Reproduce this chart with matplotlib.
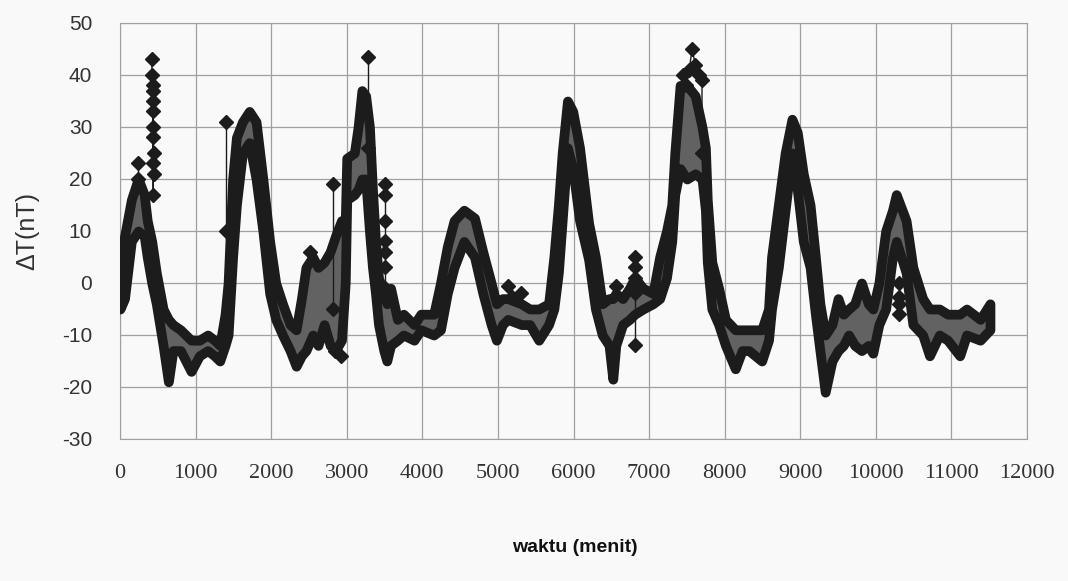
import matplotlib.pyplot as plt
import numpy as np

plt.rcParams["axes.unicode_minus"] = False

### data (band envelope of the dense record)
t_menit = [0, 60, 150, 240, 320, 360, 420, 480, 570, 640, 700, 800, 940, 1050, 1160,
           1250, 1320, 1390, 1430, 1490, 1540, 1620, 1710, 1800, 1890, 1980, 2060,
           2150, 2250, 2330, 2400, 2460, 2550, 2620, 2700, 2780, 2850, 2930, 2980,
           3000, 3100, 3150, 3200, 3250, 3300, 3340, 3380, 3420, 3490, 3530, 3580,
           3670, 3750, 3890, 3980, 4150, 4240, 4330, 4420, 4550, 4690, 4800, 4910,
           4980, 5060, 5130, 5310, 5420, 5540, 5670, 5740, 5800, 5850, 5920, 5990,
           6080, 6200, 6290, 6380, 6470, 6520, 6560, 6650, 6740, 6810, 6920, 7050,
           7140, 7230, 7300, 7340, 7410, 7500, 7610, 7700, 7745, 7770, 7830, 7920,
           8010, 8140, 8230, 8320, 8490, 8580, 8620, 8710, 8800, 8890, 8960, 9040,
           9130, 9200, 9260, 9330, 9420, 9500, 9570, 9640, 9720, 9810, 9900, 9960,
           10040, 10130, 10220, 10270, 10400, 10490, 10620, 10710, 10840, 10950,
           11110, 11200, 11380, 11510]
dT_bawah = [-5, -3, 8, 10, 9, 5, 0, -4, -12, -19, -13, -13, -17, -14, -13,
            -14, -15, -12, -10, 5, 15, 25, 27, 20, 10, -2, -7,
            -10, -13, -16, -14, -13, -10, -12, -8, -12, -13, -11, 0,
            16, 17, 18, 20, 20, 10, 3, -2, -8, -13, -15, -12,
            -11, -10, -11, -9, -10, -9, -2, 3, 8, 5, -2, -8,
            -11, -8, -7, -8, -8, -11, -8, -5, 2, 12, 26, 22,
            12, 4.5, -5, -10, -12, -18.5, -12, -8, -7, -6, -5, -4,
            -3, 1, 8, 17, 22, 20, 21, 20, 14, 4, -5, -8,
            -12, -16.5, -13, -13, -15, -11, -5, 3, 14, 25, 18, 8,
            3, -6, -13, -21, -15, -13, -12, -10, -12, -13, -12, -13.5,
            -8, -5, 5, 8, 2, -8, -10, -14, -10, -11,
            -14, -10, -11, -9]
dT_atas = [4, 9, 16, 20, 17, 12, 8, 2, -5, -7, -8, -9, -11, -11, -10,
           -11, -12, -6, 0, 20, 28, 31, 33, 31, 20, 8, 0,
           -4, -8, -9, -3, 3, 5, 3, 4, 6, 9, 12, 12,
           24, 25, 30, 37, 36, 30, 18, 8, 1, -2, -4, -1,
           -7, -6, -8, -6, -6, 0, 7, 12, 14, 12.5, 6, 0,
           -4, -3, -3, -4, -5, -5, -4, 5, 15, 25, 35, 33,
           26, 11.5, 5, -4, -3, -3, -2, -3, -1, 1, -1, -2,
           5, 10, 15, 25, 38, 38, 36, 30, 26, 16, 4, -1,
           -7, -9, -9, -9, -9, -5, 5, 15, 25, 31.5, 29, 21,
           15, 5, -4, -10, -8, -3, -6, -5, -4, 0, -4, -5,
           0, 10, 14, 17, 12, 3, -3, -5, -5, -6,
           -6, -5, -7, -4]

# isolated spikes drawn as diamond markers joined by thin lines
spike_t = [[240, 240], [420, 425, 430, 435, 440, 445, 440, 440, 435, 430, 440, 445],
           [1400, 1400], [2510], [2820, 2820], [2840, 2930],
           [3280, 3280], [3510, 3510, 3510, 3510, 3510, 3510, 3510],
           [5130], [5180], [5310], [6560], [6810, 6810, 6810, 6810, 6810],
           [7450, 7490, 7530, 7570, 7610, 7660, 7700, 7700],
           [10300, 10300, 10300, 10300]]
spike_v = [[20, 23], [43, 40, 38, 35, 30, 25, 23, 17, 33, 37, 28, 21],
           [10, 31], [6], [-5, 19], [-13, -14],
           [26, 43.5], [-1, 3, 6, 8, 12, 17, 19],
           [-0.6], [-2.6], [-2], [-0.6], [-12, -2, 1, 3, 5],
           [40, 38, 41, 45, 42, 40, 39, 25],
           [0, -2.6, -4, -6]]

warna = "#1c1c1c"

fig = plt.figure(figsize=(10.68, 5.81), dpi=100, facecolor="#f9f9f9")
ax = fig.add_axes([120/1068, 1 - 439/581, 907/1068, 416/581])
ax.set_facecolor("#f9f9f9")

ax.fill_between(t_menit, dT_bawah, dT_atas, facecolor="#626262",
                edgecolor=warna, linewidth=7, joinstyle="round", zorder=3)
for ts, vs in zip(spike_t, spike_v):
    ax.plot(ts, vs, "D-", color=warna, markersize=7, linewidth=1, zorder=4)

ax.set_xlim(0, 12000)
ax.set_ylim(-30, 50)
ax.set_xticks(np.arange(0, 12001, 1000))
ax.set_yticks(np.arange(-30, 51, 10))
ax.grid(True, color="#a0a0a0", linewidth=0.9)
ax.set_axisbelow(True)
for s in ax.spines.values():
    s.set_color("#a0a0a0")
ax.tick_params(length=0)
ax.tick_params(axis="y", pad=20, labelsize=15, labelcolor="#333333")
ax.tick_params(axis="x", pad=18, labelsize=16, labelcolor="#333333")
for lb in ax.get_yticklabels():
    lb.set_fontfamily("Liberation Sans")
for lb in ax.get_xticklabels():
    lb.set_fontfamily("Liberation Serif")

ax.set_ylabel("ΔT(nT)", fontsize=18, family="Liberation Sans", color="#333333", labelpad=16)
fig.text(575/1068, 1 - 548/581, "waktu (menit)", ha="center", va="center",
         fontsize=14, fontweight="bold", family="Liberation Sans", color="#111111")

plt.savefig("out.png", dpi=100, facecolor=fig.get_facecolor())
